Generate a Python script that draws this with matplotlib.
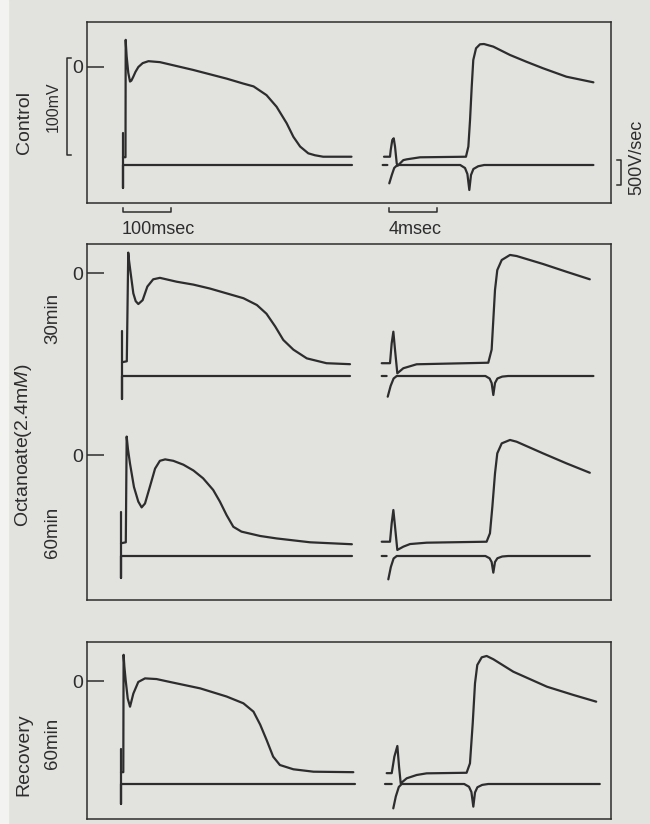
import numpy as np
import matplotlib.pyplot as plt
from matplotlib.patches import Rectangle
from matplotlib.transforms import blended_transform_factory

plt.rcParams['font.family'] = ['Liberation Sans Narrow', 'Liberation Sans', 'DejaVu Sans']
plt.rcParams['mathtext.fontset'] = 'custom'
plt.rcParams['mathtext.rm'] = 'Liberation Sans'
plt.rcParams['mathtext.it'] = 'Liberation Sans:italic'

nan = np.nan
INK = '#2d2d2d'
PAPER = '#e2e2df'

# --- slow sweep: membrane potential (mV) vs time after stimulus (ms)
ctrl_slow_t = [0, 5.2, 5.6, 6.2, 7.6, 11, 14.6, 17.5, 21.5, 26, 32, 41, 53, 77, 146, 216, 250, 272,
               299, 320, 341, 355, 369, 386, 400, 417, 476]
ctrl_slow_v = [-93, -93, 28, 22, 11, -6, -15, -14, -10, -5, 0, 4, 6, 5, -3, -12, -17, -20,
               -29, -41, -58, -72, -82, -89, -91, -92.5, -92.5]

m30_slow_t = [0, 10, 13, 14.6, 18, 23.6, 28.5, 34, 43, 52.8, 65, 79, 114, 149, 183, 218, 253, 281,
              301, 319, 336, 357, 385, 426, 475]
m30_slow_v = [-92, -91, 21, 13, 0, -21, -29, -32, -28, -14, -6.5, -5, -9, -12, -16, -21, -26, -33,
              -42, -55, -69, -79, -88, -93, -94]

m60_slow_t = [0, 10, 11.8, 14.5, 18.8, 27, 36, 43, 50, 60, 71, 81, 92, 109, 130, 151, 171, 192,
              206, 220, 234, 251, 290, 324, 394, 481]
m60_slow_v = [-91, -90, 19, 6, -9, -33, -48, -54, -50, -33, -14, -6, -4.5, -6, -10, -16, -24, -36,
              -48, -62, -74, -79, -83.5, -86, -90, -92]

rec_slow_t = [0, 4.8, 5.4, 7, 9.7, 14, 18.8, 25.7, 36, 50, 74, 102, 165, 220, 255, 276, 290,
              303.5, 317, 331, 359, 401, 484]
rec_slow_v = [-94, -94, 27, 15, 1, -18, -26.5, -13, -1, 2.7, 2, -1, -7.6, -16, -23, -31.6, -45,
              -61, -78, -86.6, -91, -93.5, -94]

# slow sweep dV/dt (V/sec): stimulus artefact then flat baseline
ctrl_slow_dt = [0, 0, 0, 477]
ctrl_slow_dv = [640, -460, 0, 0]
m30_slow_dt = [0, 0, 0, 475]
m30_slow_dv = [900, -460, 0, 0]
m60_slow_dt = [0, 0, 0, 481]
m60_slow_dv = [880, -440, 0, 0]
rec_slow_dt = [0, 0, 0, 488]
rec_slow_dv = [700, -400, 0, 0]

# --- fast sweep: upstroke, time after stimulus artefact (ms)
ctrl_fast_t = [-0.75, -0.25, -0.19, -0.06, 0.06, 0.17, 0.31, 0.39, 0.86, 1.14, 2.25, 6.08, 6.28,
               6.42, 6.56, 6.69, 6.92, 7.25, 7.58, 8.36, 9.75, 11.1, 12.5, 14.45, 16.7]
ctrl_fast_v = [-92.5, -92.5, -85.6, -75.3, -73.5, -82.2, -99.3, -101.8, -96, -95.2, -93.1, -92.5,
               -82, -54.6, -20.3, 7.2, 19.3, 23.4, 23.7, 21, 12.4, 5.5, -1.3, -10, -15.8]
ctrl_fast_dt = [-0.86, -0.47, nan, -0.31, -0.1, 0.1, 0.36, 5.6, 6.0, 6.2, 6.36, 6.5, 6.7, 7.1,
                7.6, 16.7]
ctrl_fast_dv = [0, 0, nan, -367, -200, -60, 0, 0, -60, -180, -500, -200, -80, -25, 0, 0]

m30_fast_t = [-0.94, -0.25, -0.11, 0.03, 0.17, 0.36, 0.86, 1.97, 7.94, 8.22, 8.5, 8.69, 9.06,
              9.75, 10.3, 12.5, 14.45, 16.4]
m30_fast_v = [-93, -93, -72.5, -60.5, -79.4, -103.4, -98.2, -94.1, -92.5, -79, -17.5, 3, 13.4,
              18.6, 17.5, 9.3, 1.3, -6.5]
m30_fast_dt = [-0.94, -0.53, nan, -0.44, -0.2, 0.05, 0.31, 7.7, 8.05, 8.22, 8.36, 8.5, 8.7, 9.1,
               9.6, 16.7]
m30_fast_dv = [0, 0, nan, -414, -200, -50, 0, 0, -50, -140, -380, -140, -50, -12, 0, 0]

m60_fast_t = [-0.94, -0.25, -0.11, 0.03, 0.17, 0.36, 0.86, 1.42, 2.8, 7.8, 8.08, 8.28, 8.5, 8.69,
              9.06, 9.75, 10.3, 12.5, 14.45, 16.4]
m60_fast_v = [-89.4, -89.4, -70.5, -56.7, -73.9, -97.9, -94.5, -91.8, -90.4, -89.4, -80.7, -53.3,
              -19, 1.7, 12, 15.5, 13.7, 1.7, -8.6, -18.3]
m60_fast_dt = [-0.94, -0.53, nan, -0.39, -0.18, 0.05, 0.31, 7.7, 8.05, 8.22, 8.36, 8.5, 8.7, 9.1,
               9.6, 16.4]
m60_fast_dv = [0, 0, nan, -467, -220, -50, 0, 0, -45, -120, -333, -120, -45, -10, 0, 0]

rec_fast_t = [-0.86, -0.44, -0.22, 0.03, 0.17, 0.31, 0.81, 1.64, 2.47, 5.8, 6.08, 6.31, 6.5, 6.69,
              7.06, 7.47, 8.03, 9.69, 12.5, 14.7, 16.6]
rec_fast_v = [-95, -95, -78, -67, -88.3, -105.5, -100.3, -96.9, -95.2, -94.6, -84.9, -43.6, -2.4,
              16.5, 24.4, 25.8, 22.4, 9.6, -5.9, -14.4, -21.3]
rec_fast_dt = [-1.0, -0.44, nan, -0.31, -0.1, 0.15, 0.39, 5.6, 6.0, 6.2, 6.36, 6.5, 6.7, 7.1,
               7.6, 16.9]
rec_fast_dv = [0, 0, nan, -487, -250, -60, 0, 0, -55, -160, -453, -170, -65, -18, 0, 0]

# calibration bars
slow_bar_ms = 100
fast_bar_ms = 4
mv_bar = 100
dvdt_bar = 500

# --- layout (pixels of a 650x824 page)
W, H = 650, 824
PX_MV = 0.97        # px per mV
PX_SLOW = 0.48      # px per ms, slow sweep
PX_FAST = 12.0      # px per ms, fast sweep
PX_DV = 1 / 20.0    # px per V/sec

rows = [
    # zero-mV px, dV/dt baseline px, stim x px, artefact x px, top px, bottom px
    dict(slow=(ctrl_slow_t, ctrl_slow_v), sdv=(ctrl_slow_dt, ctrl_slow_dv),
         fast=(ctrl_fast_t, ctrl_fast_v), fdv=(ctrl_fast_dt, ctrl_fast_dv),
         zero=67, base=165, stim=123, art=393, top=22, bot=203),
    dict(slow=(m30_slow_t, m30_slow_v), sdv=(m30_slow_dt, m30_slow_dv),
         fast=(m30_fast_t, m30_fast_v), fdv=(m30_fast_dt, m30_fast_dv),
         zero=273, base=376, stim=122, art=393, top=244, bot=425),
    dict(slow=(m60_slow_t, m60_slow_v), sdv=(m60_slow_dt, m60_slow_dv),
         fast=(m60_fast_t, m60_fast_v), fdv=(m60_fast_dt, m60_fast_dv),
         zero=455, base=556, stim=121, art=393, top=425, bot=600),
    dict(slow=(rec_slow_t, rec_slow_v), sdv=(rec_slow_dt, rec_slow_dv),
         fast=(rec_fast_t, rec_fast_v), fdv=(rec_fast_dt, rec_fast_dv),
         zero=681, base=784, stim=121, art=397, top=642, bot=819),
]
boxes = [(22, 203), (244, 600), (642, 819)]
BOX_L, BOX_R = 87, 611
SLOW_X = (87, 362)
FAST_X = (370, 611)

fig = plt.figure(figsize=(6.5, 8.24), dpi=100, facecolor=PAPER)
fig.patches.append(Rectangle((0, 0), 8 / W, 1, transform=fig.transFigure,
                             color='#f3f3f1', zorder=0))


def px_axes(x0, x1, y0, y1):
    ax = fig.add_axes([x0 / W, 1 - y1 / H, (x1 - x0) / W, (y1 - y0) / H])
    ax.patch.set_alpha(0)
    for s in ax.spines.values():
        s.set_visible(False)
    ax.set_xticks([])
    ax.set_yticks([])
    return ax


# frames
for y0, y1 in boxes:
    fr = px_axes(BOX_L, BOX_R, y0, y1)
    for s in fr.spines.values():
        s.set_visible(True)
        s.set_linewidth(1.1)
        s.set_color(INK)

line_kw = dict(color=INK, lw=1.6, solid_joinstyle='round', solid_capstyle='round', clip_on=False)
axes_rows = []
for r in rows:
    # slow sweep
    ax = px_axes(SLOW_X[0], SLOW_X[1], r['top'], r['bot'])
    ax.set_xlim((SLOW_X[0] - r['stim']) / PX_SLOW, (SLOW_X[1] - r['stim']) / PX_SLOW)
    ax.set_ylim((r['zero'] - r['bot']) / PX_MV, (r['zero'] - r['top']) / PX_MV)
    ax.plot(*r['slow'], **line_kw)
    ax.set_yticks([0])
    ax.set_yticklabels(['0'])
    ax.tick_params(axis='y', direction='in', length=12.5, width=1.1, pad=3,
                   labelsize=14, colors=INK)
    axd = ax.twinx()
    axd.patch.set_alpha(0)
    for s in axd.spines.values():
        s.set_visible(False)
    axd.set_yticks([])
    axd.set_ylim((r['base'] - r['bot']) / PX_DV, (r['base'] - r['top']) / PX_DV)
    axd.plot(*r['sdv'], **line_kw)

    # fast sweep
    af = px_axes(FAST_X[0], FAST_X[1], r['top'], r['bot'])
    af.set_xlim((FAST_X[0] - r['art']) / PX_FAST, (FAST_X[1] - r['art']) / PX_FAST)
    af.set_ylim((r['zero'] - r['bot']) / PX_MV, (r['zero'] - r['top']) / PX_MV)
    af.plot(*r['fast'], **line_kw)
    afd = af.twinx()
    afd.patch.set_alpha(0)
    for s in afd.spines.values():
        s.set_visible(False)
    afd.set_yticks([])
    afd.set_ylim((r['base'] - r['bot']) / PX_DV, (r['base'] - r['top']) / PX_DV)
    afd.plot(*r['fdv'], **line_kw)
    axes_rows.append((ax, axd, af, afd))

bar_kw = dict(color=INK, lw=1.1, clip_on=False)
ax, axd, af, afd = axes_rows[0]

# 100 mV bar, left of the control frame
tr = blended_transform_factory(ax.transAxes, ax.transData)
bx, stub = -0.073, 0.014
ax.plot([bx + stub, bx, bx, bx + stub], [9, 9, 9 - mv_bar, 9 - mv_bar], transform=tr, **bar_kw)

# 100 msec bar
tr = blended_transform_factory(ax.transData, ax.transAxes)
ax.plot([0, 0, slow_bar_ms, slow_bar_ms], [-0.028, -0.05, -0.05, -0.028], transform=tr, **bar_kw)
ax.text(-2, -0.145, '100msec', transform=tr, ha='left', va='center', fontsize=13, color=INK)

# 4 msec bar
tr = blended_transform_factory(af.transData, af.transAxes)
t0 = -0.33
af.plot([t0, t0, t0 + fast_bar_ms, t0 + fast_bar_ms], [-0.028, -0.05, -0.05, -0.028],
        transform=tr, **bar_kw)
af.text(t0, -0.145, '4msec', transform=tr, ha='left', va='center', fontsize=13, color=INK)

# 500 V/sec bar
tr = blended_transform_factory(afd.transAxes, afd.transData)
bx, stub = 1.04, 0.017
afd.plot([bx - stub, bx, bx, bx - stub], [100, 100, 100 - dvdt_bar, 100 - dvdt_bar],
         transform=tr, **bar_kw)
afd.text(1.108, 160, '500V/sec', transform=tr, rotation=90, ha='center', va='center',
         fontsize=13, color=INK)

# row labels
labels = [
    ('Control', 24, 122, 14),
    ('100mV', 53, 107, 11.5),
    ('30min', 53, 318, 13.5),
    (r'Octanoate(2.4m$\it{M}$)', 24, 445, 14),
    ('60min', 53, 532, 13.5),
    ('Recovery', 24, 755, 14),
    ('60min', 53, 743, 13.5),
]
for txt, x, y, fs in labels:
    fig.text(x / W, 1 - y / H, txt, rotation=90, ha='center', va='center',
             fontsize=fs, color=INK)

fig.savefig('out.png', dpi=100, facecolor=PAPER)
